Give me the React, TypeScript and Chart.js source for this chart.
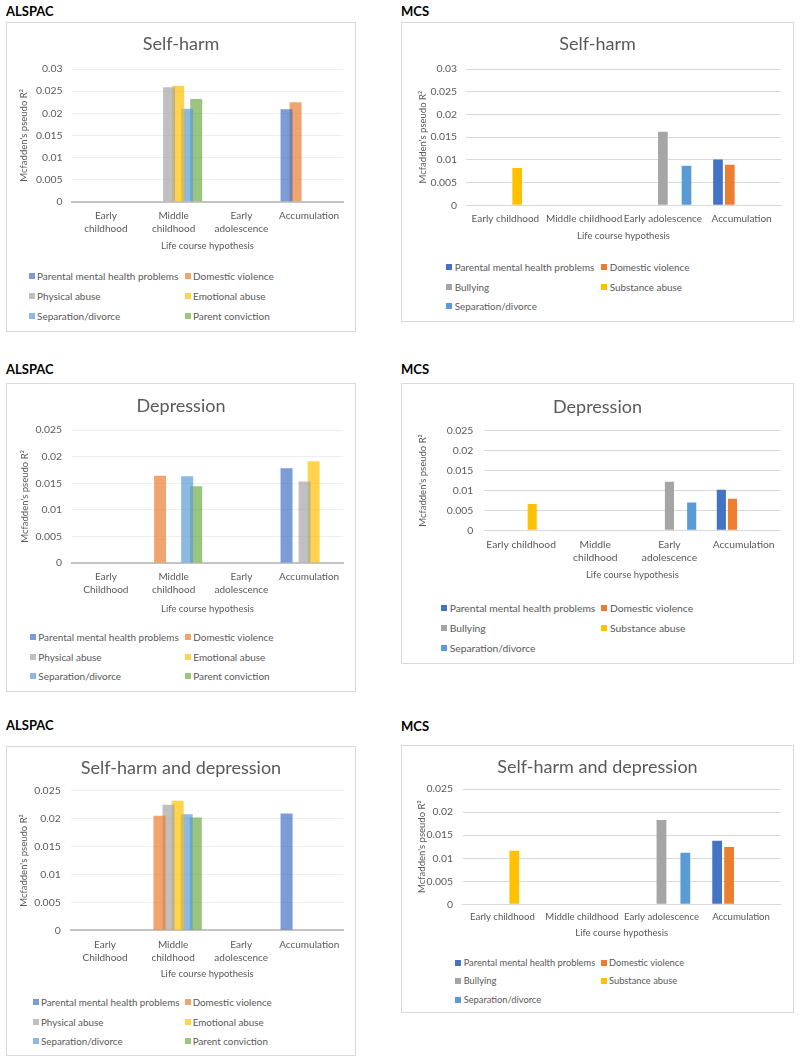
import React, { useEffect, useRef } from "react";
import { Chart, registerables } from "chart.js";
Chart.register(...registerables);

// ---------- data ----------
const ALSPAC_SERIES = [
  "Parental mental health problems",
  "Domestic violence",
  "Physical abuse",
  "Emotional abuse",
  "Separation/divorce",
  "Parent conviction",
];
const MCS_SERIES = [
  "Parental mental health problems",
  "Domestic violence",
  "Bullying",
  "Substance abuse",
  "Separation/divorce",
];
const ALSPAC_COLORS = [
  "rgba(68,114,196,0.7)",
  "rgba(237,125,49,0.7)",
  "rgba(165,165,165,0.7)",
  "rgba(255,192,0,0.7)",
  "rgba(91,155,213,0.7)",
  "rgba(112,173,71,0.7)",
];
const MCS_COLORS = ["#4472C4", "#ED7D31", "#A5A5A5", "#FFC000", "#5B9BD5"];

const CATS_ALSPAC_SH = [["Early", "childhood"], ["Middle", "childhood"], ["Early", "adolescence"], "Accumulation"];
const CATS_ALSPAC_DEP = [["Early", "Childhood"], ["Middle", "childhood"], ["Early", "adolescence"], "Accumulation"];
const CATS_MCS_ONE_LINE = ["Early childhood", "Middle childhood", "Early adolescence", "Accumulation"];
const CATS_MCS_DEP = ["Early childhood", ["Middle", "childhood"], ["Early", "adolescence"], "Accumulation"];

// series values (rows follow series order, columns follow categories)
const ALSPAC_SELFHARM = [
  [null, null, null, 0.0209],
  [null, null, null, 0.0225],
  [null, 0.0259, null, null],
  [null, 0.0262, null, null],
  [null, 0.021, null, null],
  [null, 0.0232, null, null],
];
const MCS_SELFHARM = [
  [null, null, null, 0.0101],
  [null, null, null, 0.0089],
  [null, null, 0.0162, null],
  [0.0082, null, null, null],
  [null, null, 0.0087, null],
];
const ALSPAC_DEPRESSION = [
  [null, null, null, 0.0178],
  [null, 0.0164, null, null],
  [null, null, null, 0.0153],
  [null, null, null, 0.0191],
  [null, 0.0163, null, null],
  [null, 0.0144, null, null],
];
const MCS_DEPRESSION = [
  [null, null, null, 0.0102],
  [null, null, null, 0.0079],
  [null, null, 0.0122, null],
  [0.0066, null, null, null],
  [null, null, 0.007, null],
];
const ALSPAC_BOTH = [
  [null, null, null, 0.0209],
  [null, 0.0205, null, null],
  [null, 0.0225, null, null],
  [null, 0.0232, null, null],
  [null, 0.0208, null, null],
  [null, 0.0202, null, null],
];
const MCS_BOTH = [
  [null, null, null, 0.0138],
  [null, null, null, 0.0124],
  [null, null, 0.0183, null],
  [0.0116, null, null, null],
  [null, null, 0.0112, null],
];

const Y_MAX_SELFHARM = 0.03;
const Y_MAX_OTHER = 0.025;
const Y_STEP = 0.005;

const Y_TITLE = "Mcfadden's pseudo R\u00B2";
const X_TITLE = "Life course hypothesis";

// ---------- layout ----------
type Box = { x: number; y: number; w: number; h: number };
type Plot = { l: number; r: number; t: number; b: number };
type Cfg = {
  header: string;
  headerY: number;
  title: string;
  box: Box;
  plot: Plot;
  titleY: number;
  catY: number;
  xTitleY: number;
  yTitleX: number;
  tickRight: number;
  labels: any[];
  series: string[];
  colors: string[];
  values: (number | null)[][];
  yMax: number;
  alspac: boolean;
  legendFont: number;
  catFont: number;
  legend: { m1: number; t1: number; m2: number; t2: number; rows: number[] };
};

const PANELS: Cfg[] = [
  {
    header: "ALSPAC", headerY: 11, title: "Self-harm",
    box: { x: 6, y: 22, w: 350, h: 310 }, plot: { l: 72, r: 343, t: 69, b: 202 },
    titleY: 43, catY: 216, xTitleY: 246.5, yTitleX: 24, tickRight: 62.5,
    labels: CATS_ALSPAC_SH, series: ALSPAC_SERIES, colors: ALSPAC_COLORS, values: ALSPAC_SELFHARM,
    yMax: Y_MAX_SELFHARM, alspac: true, legendFont: 10, catFont: 10,
    legend: { m1: 29, t1: 37, m2: 185, t2: 193, rows: [276.3, 296.3, 316] },
  },
  {
    header: "MCS", headerY: 11, title: "Self-harm",
    box: { x: 401, y: 22, w: 393, h: 300 }, plot: { l: 466, r: 781, t: 69, b: 205.7 },
    titleY: 43.3, catY: 219.3, xTitleY: 236.7, yTitleX: 423, tickRight: 457,
    labels: CATS_MCS_ONE_LINE, series: MCS_SERIES, colors: MCS_COLORS, values: MCS_SELFHARM,
    yMax: Y_MAX_SELFHARM, alspac: false, legendFont: 9.9, catFont: 10,
    legend: { m1: 446.3, t1: 454.7, m2: 601.3, t2: 609.7, rows: [267, 286.7, 306] },
  },
  {
    header: "ALSPAC", headerY: 369, title: "Depression",
    box: { x: 6, y: 383, w: 350, h: 309 }, plot: { l: 72, r: 343, t: 430, b: 563.3 },
    titleY: 405, catY: 577.3, xTitleY: 609.7, yTitleX: 24.7, tickRight: 62,
    labels: CATS_ALSPAC_DEP, series: ALSPAC_SERIES, colors: ALSPAC_COLORS, values: ALSPAC_DEPRESSION,
    yMax: Y_MAX_OTHER, alspac: true, legendFont: 9.95, catFont: 10,
    legend: { m1: 30, t1: 38.3, m2: 185, t2: 193.3, rows: [637, 656.7, 676.3] },
  },
  {
    header: "MCS", headerY: 369, title: "Depression",
    box: { x: 401, y: 383, w: 393, h: 281 }, plot: { l: 484, r: 780.7, t: 430.7, b: 530.3 },
    titleY: 405.7, catY: 544.3, xTitleY: 575.3, yTitleX: 423, tickRight: 473.3,
    labels: CATS_MCS_DEP, series: MCS_SERIES, colors: MCS_COLORS, values: MCS_DEPRESSION,
    yMax: Y_MAX_OTHER, alspac: false, legendFont: 10.3, catFont: 10.3,
    legend: { m1: 441.3, t1: 449.7, m2: 601.3, t2: 610, rows: [607.7, 627.7, 648.3] },
  },
  {
    header: "ALSPAC", headerY: 725, title: "Self-harm and depression",
    box: { x: 6, y: 746, w: 350, h: 310 }, plot: { l: 71, r: 343.3, t: 790.7, b: 930 },
    titleY: 766.7, catY: 944, xTitleY: 974, yTitleX: 24, tickRight: 60.7,
    labels: CATS_ALSPAC_DEP, series: ALSPAC_SERIES, colors: ALSPAC_COLORS, values: ALSPAC_BOTH,
    yMax: Y_MAX_OTHER, alspac: true, legendFont: 9.8, catFont: 10,
    legend: { m1: 33.3, t1: 41, m2: 185, t2: 192.7, rows: [1002.3, 1021.7, 1041] },
  },
  {
    header: "MCS", headerY: 726, title: "Self-harm and depression",
    box: { x: 401, y: 745, w: 393, h: 268 }, plot: { l: 462.6, r: 780.8, t: 789, b: 904.7 },
    titleY: 766, catY: 917.7, xTitleY: 933.7, yTitleX: 422, tickRight: 453,
    labels: CATS_MCS_ONE_LINE, series: MCS_SERIES, colors: MCS_COLORS, values: MCS_BOTH,
    yMax: Y_MAX_OTHER, alspac: false, legendFont: 9.3, catFont: 9.6,
    legend: { m1: 454.7, t1: 463.7, m2: 601.3, t2: 609, rows: [962.7, 981, 999.7] },
  },
];

const FONT = "Lato, 'Open Sans', sans-serif";
const TEXT = "#595959";
const TITLE_SIZE = 18;
const TICK_SIZE = 10.4;
const AXIS_TITLE_SIZE = 9.5;

function fmt(v: any) {
  return String(parseFloat(Number(v).toFixed(4)));
}

function Panel({ cfg }: { cfg: Cfg }) {
  const ref = useRef<HTMLCanvasElement>(null);
  const { box, plot } = cfg;
  const axLh = AXIS_TITLE_SIZE * 1.2;
  const xAxisH = cfg.xTitleY + axLh / 2 + 2 - plot.b;
  const canvasH = Math.round(plot.b - box.y + xAxisH);

  useEffect(() => {
    const c = ref.current!;
    const tickLh = cfg.catFont * 1.3;
    const chart = new Chart(c, {
      type: "bar",
      data: {
        labels: cfg.labels,
        datasets: cfg.series.map((name, i) => ({
          label: name,
          data: cfg.values[i] as any,
          backgroundColor: cfg.colors[i],
          borderWidth: 0,
          categoryPercentage: cfg.alspac ? 0.8 : 0.75,
          barPercentage: cfg.alspac ? 1.33 : 0.82,
        })),
      },
      options: {
        animation: false,
        responsive: false,
        maintainAspectRatio: false,
        layout: {
          padding: { left: 0, top: plot.t - box.y, bottom: 0, right: box.x + box.w - plot.r },
        },
        plugins: {
          legend: { display: false },
          tooltip: { enabled: false },
          title: { display: false },
        },
        scales: {
          x: {
            grid: { display: false, drawTicks: false },
            border: {
              display: true,
              color: cfg.alspac ? "#C4C4C4" : "#D9D9D9",
              width: cfg.alspac ? 2 : 1,
            },
            ticks: {
              color: TEXT,
              font: { family: FONT, size: cfg.catFont, lineHeight: 1.3 },
              padding: cfg.catY - plot.b - tickLh / 2,
              maxRotation: 0,
              minRotation: 0,
              autoSkip: false,
            },
            title: {
              display: true,
              text: X_TITLE,
              color: TEXT,
              font: { family: FONT, size: AXIS_TITLE_SIZE, lineHeight: 1.2 },
              padding: { top: 0, bottom: 2 },
            },
            afterFit: (s: any) => {
              s.height = xAxisH;
            },
          },
          y: {
            min: 0,
            max: cfg.yMax,
            ticks: {
              stepSize: Y_STEP,
              padding: plot.l - cfg.tickRight,
              color: TEXT,
              font: { family: FONT, size: TICK_SIZE },
              callback: (v: any) => fmt(v),
            },
            grid: { color: cfg.alspac ? "#EFEFEF" : "#D9D9D9", drawTicks: false },
            border: { display: false },
            title: {
              display: true,
              text: Y_TITLE,
              color: TEXT,
              font: { family: FONT, size: AXIS_TITLE_SIZE, lineHeight: 1.2 },
              padding: { top: cfg.yTitleX - box.x - axLh / 2, bottom: 0 },
            },
            afterFit: (s: any) => {
              s.width = plot.l - box.x;
            },
          },
        },
      } as any,
    });
    return () => chart.destroy();
  }, []);

  const legendItems = cfg.series.map((name, i) => {
    const row = Math.floor(i / 2);
    const col = i % 2;
    const y = cfg.legend.rows[row];
    const mx = col === 0 ? cfg.legend.m1 : cfg.legend.m2;
    const tx = col === 0 ? cfg.legend.t1 : cfg.legend.t2;
    return (
      <React.Fragment key={name}>
        <div
          style={{
            position: "absolute",
            left: mx,
            top: y - 3,
            width: 6,
            height: 6,
            background: cfg.colors[i],
          }}
        />
        <div
          style={{
            position: "absolute",
            left: tx,
            top: y - 7,
            height: 14,
            lineHeight: "14px",
            fontFamily: FONT,
            fontSize: cfg.legendFont,
            color: TEXT,
            whiteSpace: "nowrap",
          }}
        >
          {name}
        </div>
      </React.Fragment>
    );
  });

  return (
    <>
      <div
        style={{
          position: "absolute",
          left: box.x,
          top: cfg.headerY - 8,
          height: 16,
          lineHeight: "16px",
          fontFamily: FONT,
          fontWeight: 700,
          fontSize: 13,
          color: "#000",
        }}
      >
        {cfg.header}
      </div>
      <div
        style={{
          position: "absolute",
          left: box.x,
          top: box.y,
          width: box.w,
          height: box.h,
          border: "1px solid #D9D9D9",
          boxSizing: "border-box",
          background: "#fff",
        }}
      />
      <canvas
        ref={ref}
        width={box.w}
        height={canvasH}
        style={{ position: "absolute", left: box.x, top: box.y, width: box.w, height: canvasH }}
      />
      <div
        style={{
          position: "absolute",
          left: box.x,
          width: box.w,
          top: cfg.titleY - 12,
          height: 24,
          lineHeight: "24px",
          textAlign: "center",
          fontFamily: FONT,
          fontSize: TITLE_SIZE,
          color: TEXT,
          whiteSpace: "nowrap",
        }}
      >
        {cfg.title}
      </div>
      {legendItems}
    </>
  );
}

export default function App() {
  return (
    <div
      style={{
        position: "absolute",
        left: 0,
        top: 0,
        width: 800,
        height: 1062,
        background: "#fff",
        overflow: "hidden",
      }}
    >
      {PANELS.map((p, i) => (
        <Panel key={i} cfg={p} />
      ))}
    </div>
  );
}
